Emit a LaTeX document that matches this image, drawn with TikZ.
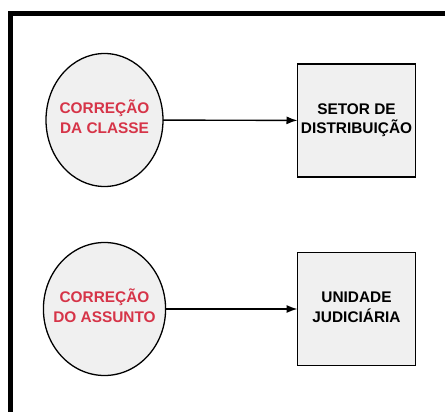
\documentclass[tikz,border=0pt]{standalone}
\usepackage{fontspec}
\setmainfont{Liberation Sans}
\usetikzlibrary{shapes.geometric,arrows.meta}
\definecolor{corretxt}{RGB}{214,52,72}
\definecolor{boxfill}{RGB}{240,240,240}
\begin{document}
\begin{tikzpicture}[x=1pt,y=-1pt,inner sep=0pt,outer sep=0pt,
corrnode/.style={draw,ellipse,fill=boxfill,line width=1.3pt,inner xsep=-8pt,minimum width=117pt,minimum height=133pt,
  text=corretxt,align=center,text height=26pt,text depth=0pt,font=\fontsize{15.4}{19.5}\selectfont\bfseries},
destnode/.style={draw,rectangle,fill=boxfill,line width=1.6pt,minimum width=118pt,minimum height=113pt,
  align=center,text height=26pt,text depth=0pt,font=\fontsize{15.4}{19.5}\selectfont\bfseries},
flow/.style={-{Latex[length=11pt,width=8pt]},line width=1.4pt}]
\path[use as bounding box] (0,0) rectangle (445,412);
\clip (0,0) rectangle (445,412);
\draw[line width=5pt] (10.5,430) -- (10.5,14) -- (460,14);
\draw (104.5,120) node[corrnode] (classe) {CORREÇÃO\\DA CLASSE};
\draw (356.5,120.5) node[destnode] (setor) {SETOR DE\\DISTRIBUIÇÃO};
\draw (104.5,309) node[corrnode] (assunto) {CORREÇÃO\\DO ASSUNTO};
\draw (356.5,309) node[destnode] (unidade) {UNIDADE\\JUDICIÁRIA};
\draw[flow] (classe) -- (setor);
\draw[flow] (assunto) -- (unidade);
\end{tikzpicture}
\end{document}
